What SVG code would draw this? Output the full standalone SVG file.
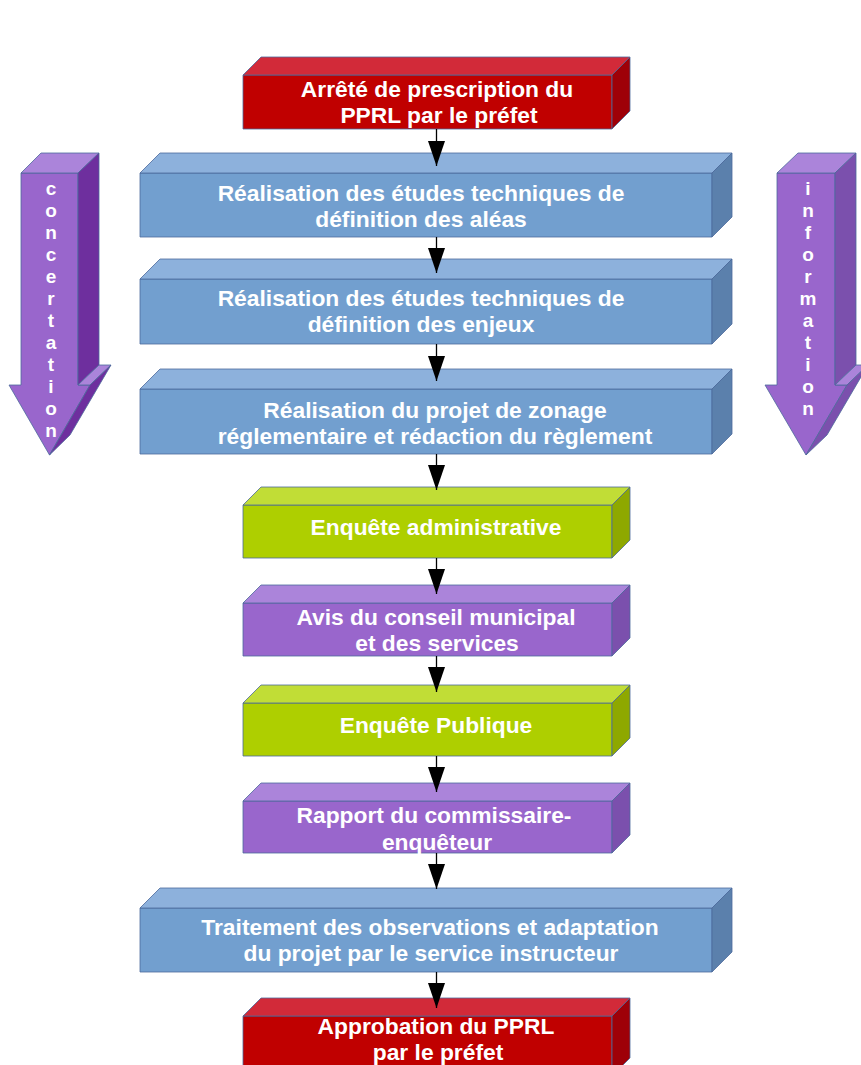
<svg xmlns="http://www.w3.org/2000/svg" width="861" height="1065" viewBox="0 0 861 1065">
<defs>
<style>
.f{stroke:#4d6a9c;stroke-width:0.8;stroke-linejoin:round}
.red .fr{fill:#c00000}.red .tp{fill:#d22a39}.red .sd{fill:#9e0008}
.blue .fr{fill:#729fcf}.blue .tp{fill:#8db1dc}.blue .sd{fill:#5b80ac}
.green .fr{fill:#aecf00}.green .tp{fill:#c1dd36}.green .sd{fill:#8ea800}
.purple .fr{fill:#9966cc}.purple .tp{fill:#ab84da}.purple .sd{fill:#7b50ad}
#side-concertation .sd{fill:#6e2f9e}
text{font-family:"Liberation Sans",Arial,sans-serif;font-weight:bold;fill:#ffffff}
.lbl{font-size:22.8px;text-anchor:middle}
.vt{font-size:19px;text-anchor:middle}
.con{stroke:#000;stroke-width:1.3;fill:none;marker-end:url(#ah)}
</style>
<marker id="ah" markerUnits="userSpaceOnUse" markerWidth="25" markerHeight="17" refX="25" refY="8.5" orient="auto" viewBox="0 0 25 17">
<path d="M0,0 L25,8.5 L0,17 z" fill="#000"/>
</marker>
</defs>
<rect width="861" height="1065" fill="#ffffff"/>

<g id="side-concertation" class="purple">
<polygon class="fr f" points="21,173 78,173 78,385 90,385 49.5,455 9,385 21,385"/>
<polygon class="tp f" points="21,173 41,153 99,153 78,173"/>
<polygon class="sd f" points="78,173 99,153 99,365 78,385"/>
<polygon class="tp f" points="78,385 90,385 111,365 99,365"/>
<polygon class="sd f" points="90,385 111,365 70,435 49.5,455"/>
<text class="vt"><tspan x="51" y="195">c</tspan><tspan x="51" y="217">o</tspan><tspan x="51" y="239">n</tspan><tspan x="51" y="261">c</tspan><tspan x="51" y="283">e</tspan><tspan x="51" y="305">r</tspan><tspan x="51" y="327">t</tspan><tspan x="51" y="349">a</tspan><tspan x="51" y="371">t</tspan><tspan x="51" y="393">i</tspan><tspan x="51" y="415">o</tspan><tspan x="51" y="437">n</tspan></text>
</g>

<g id="side-information" class="purple">
<polygon class="fr f" points="777,173 835,173 835,385 847,385 806,455 765,385 777,385"/>
<polygon class="tp f" points="777,173 798,153 856,153 835,173"/>
<polygon class="sd f" points="835,173 856,153 856,365 835,385"/>
<polygon class="tp f" points="835,385 847,385 868,365 856,365"/>
<polygon class="sd f" points="847,385 868,365 827,435 806,455"/>
<text class="vt"><tspan x="808" y="195">i</tspan><tspan x="808" y="217">n</tspan><tspan x="808" y="239">f</tspan><tspan x="808" y="261">o</tspan><tspan x="808" y="283">r</tspan><tspan x="808" y="305">m</tspan><tspan x="808" y="327">a</tspan><tspan x="808" y="349">t</tspan><tspan x="808" y="371">i</tspan><tspan x="808" y="393">o</tspan><tspan x="808" y="415">n</tspan></text>
</g>

<g id="n1" class="red">
<rect class="fr f" x="243" y="75" width="369" height="54"/>
<polygon class="tp f" points="243,75 261,57 630,57 612,75"/>
<polygon class="sd f" points="612,75 630,57 630,111 612,129"/>
<text class="lbl" x="437" y="97">Arrêté de prescription du</text>
<text class="lbl" x="439" y="123">PPRL par le préfet</text>
</g>

<g id="n2" class="blue">
<rect class="fr f" x="140" y="173" width="572" height="64"/>
<polygon class="tp f" points="140,173 160,153 732,153 712,173"/>
<polygon class="sd f" points="712,173 732,153 732,217 712,237"/>
<text class="lbl" x="421" y="201">Réalisation des études techniques de</text>
<text class="lbl" x="421" y="227">définition des aléas</text>
</g>

<g id="n3" class="blue">
<rect class="fr f" x="140" y="279" width="572" height="65"/>
<polygon class="tp f" points="140,279 160,259 732,259 712,279"/>
<polygon class="sd f" points="712,279 732,259 732,324 712,344"/>
<text class="lbl" x="421" y="306">Réalisation des études techniques de</text>
<text class="lbl" x="421" y="332">définition des enjeux</text>
</g>

<g id="n4" class="blue">
<rect class="fr f" x="140" y="389" width="572" height="65"/>
<polygon class="tp f" points="140,389 160,369 732,369 712,389"/>
<polygon class="sd f" points="712,389 732,369 732,434 712,454"/>
<text class="lbl" x="435" y="418">Réalisation du projet de zonage</text>
<text class="lbl" x="435" y="444">réglementaire et rédaction du règlement</text>
</g>

<g id="n5" class="green">
<rect class="fr f" x="243" y="505" width="369" height="53"/>
<polygon class="tp f" points="243,505 261,487 630,487 612,505"/>
<polygon class="sd f" points="612,505 630,487 630,540 612,558"/>
<text class="lbl" x="436" y="535">Enquête administrative</text>
</g>

<g id="n6" class="purple">
<rect class="fr f" x="243" y="603" width="369" height="53"/>
<polygon class="tp f" points="243,603 261,585 630,585 612,603"/>
<polygon class="sd f" points="612,603 630,585 630,638 612,656"/>
<text class="lbl" x="436" y="625">Avis du conseil municipal</text>
<text class="lbl" x="437" y="651">et des services</text>
</g>

<g id="n7" class="green">
<rect class="fr f" x="243" y="703" width="369" height="53"/>
<polygon class="tp f" points="243,703 261,685 630,685 612,703"/>
<polygon class="sd f" points="612,703 630,685 630,738 612,756"/>
<text class="lbl" x="436" y="733">Enquête Publique</text>
</g>

<g id="n8" class="purple">
<rect class="fr f" x="243" y="801" width="369" height="52"/>
<polygon class="tp f" points="243,801 261,783 630,783 612,801"/>
<polygon class="sd f" points="612,801 630,783 630,835 612,853"/>
<text class="lbl" x="434" y="823">Rapport du commissaire-</text>
<text class="lbl" x="437" y="850">enquêteur</text>
</g>

<g id="n9" class="blue">
<rect class="fr f" x="140" y="908" width="572" height="64"/>
<polygon class="tp f" points="140,908 160,888 732,888 712,908"/>
<polygon class="sd f" points="712,908 732,888 732,952 712,972"/>
<text class="lbl" x="430" y="935">Traitement des observations et adaptation</text>
<text class="lbl" x="431" y="961">du projet par le service instructeur</text>
</g>

<g id="n10" class="red">
<rect class="fr f" x="243" y="1016" width="369" height="60"/>
<polygon class="tp f" points="243,1016 261,998 630,998 612,1016"/>
<polygon class="sd f" points="612,1016 630,998 630,1058 612,1076"/>
<text class="lbl" x="436" y="1034">Approbation du PPRL</text>
<text class="lbl" x="438" y="1060">par le préfet</text>
</g>

<g id="connectors">
<line class="con" x1="436.5" y1="129" x2="436.5" y2="166"/>
<line class="con" x1="436.5" y1="237" x2="436.5" y2="273"/>
<line class="con" x1="436.5" y1="344" x2="436.5" y2="381"/>
<line class="con" x1="436.5" y1="454" x2="436.5" y2="490"/>
<line class="con" x1="436.5" y1="558" x2="436.5" y2="594"/>
<line class="con" x1="436.5" y1="656" x2="436.5" y2="692"/>
<line class="con" x1="436.5" y1="756" x2="436.5" y2="792"/>
<line class="con" x1="436.5" y1="853" x2="436.5" y2="889"/>
<line class="con" x1="436.5" y1="972" x2="436.5" y2="1008"/>
</g>
</svg>
